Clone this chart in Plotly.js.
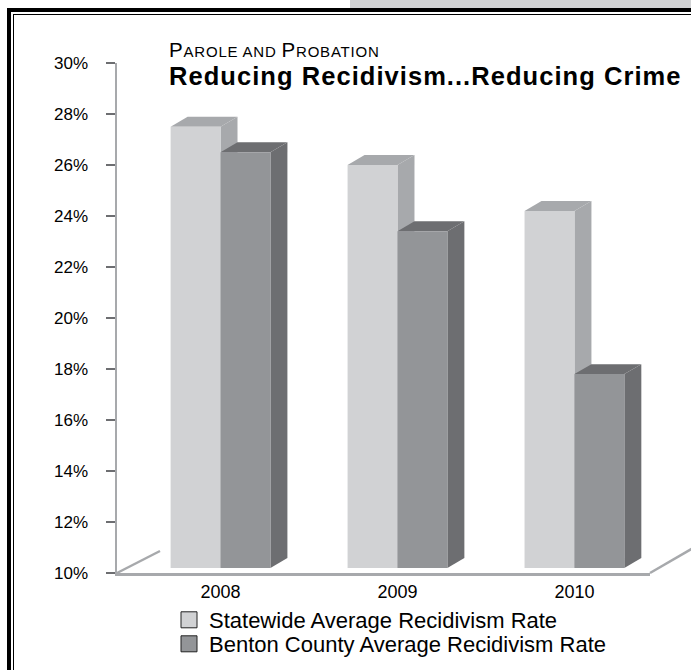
<!DOCTYPE html>
<html>
<head>
<meta charset="utf-8">
<script src="https://cdn.plot.ly/plotly-3.0.1.min.js"></script>
<style>
  html, body { margin: 0; padding: 0; background: #fff; }
  #wrap { position: relative; width: 691px; height: 670px; overflow: hidden; }
  #chart { position: absolute; left: 0; top: 0; width: 691px; height: 670px; }
  .deco { position: absolute; pointer-events: none; }
  #band { left: 350px; top: 0; width: 341px; height: 8px; background: #d1d2d4; }
  #outer { left: 7px; top: 8px; width: 700px; height: 700px; border-left: 4.5px solid #000; border-top: 4.5px solid #000; }
  #inner { left: 13.3px; top: 14px; width: 700px; height: 700px; border-left: 1.5px solid #000; border-top: 1.5px solid #000; }
  #chart g.annotation[data-index="0"] text { letter-spacing: 0.8px; }
  #chart g.annotation[data-index="1"] text { letter-spacing: 1.05px; }
</style>
</head>
<body>
<div id="wrap">
  <div id="chart"></div>
  <div class="deco" id="band"></div>
  <div class="deco" id="outer"></div>
  <div class="deco" id="inner"></div>
</div>
<script>
// ---- data ----
var years = ['2008', '2009', '2010'];
var statewide = [27.3, 25.8, 24.0];
var benton = [26.3, 23.2, 17.6];
var seriesNames = ['Statewide Average Recidivism Rate', 'Benton County Average Recidivism Rate'];
var yTickVals = [10, 12, 14, 16, 18, 20, 22, 24, 26, 28, 30];
var yTickText = ['10%', '12%', '14%', '16%', '18%', '20%', '22%', '24%', '26%', '28%', '30%'];

// ---- style ----
var FONT = '"Liberation Sans", Arial, Helvetica, sans-serif';
var colFront = ['#d1d2d4', '#939598'];
var colSide = ['#a7a9ac', '#6d6e71'];
var barW = 0.282;       // bar width in category units
var depthX = 0.096;     // 3D depth, x units
var depthY = 0.39;      // 3D depth, y units
var floorBase = 10;     // axis minimum
var floorLift = 0.2;    // bars sit slightly back on the floor

var idx = years.map(function (_, i) { return i; });
var series = [statewide, benton];
var offsets = [-barW, 0];
var legendIds = ['legend', 'legend2'];

var traces = [];
series.forEach(function (vals, s) {
  traces.push({
    type: 'bar',
    x: idx,
    y: vals.map(function (v) { return v - floorBase; }),
    base: floorBase + floorLift,
    width: barW,
    offset: offsets[s],
    marker: { color: colFront[s], line: { width: 0 } },
    name: seriesNames[s],
    showlegend: false,
    hoverinfo: 'skip'
  });
});
// legend entries
series.forEach(function (vals, s) {
  traces.push({
    type: 'scatter',
    mode: 'markers',
    x: [null],
    y: [null],
    name: seriesNames[s],
    legend: legendIds[s],
    marker: { symbol: 'square', size: 16, color: colFront[s], line: { color: '#222', width: 1 } },
    showlegend: true,
    hoverinfo: 'skip'
  });
});

// 3D side and top faces computed from the data
var shapes = [];
idx.forEach(function (i) {
  series.forEach(function (vals, s) {
    var xl = i + offsets[s];
    var xr = xl + barW;
    var b = floorBase + floorLift;
    var t = vals[i] + floorLift;
    var side = 'M' + xr + ',' + b + ' L' + (xr + depthX) + ',' + (b + depthY) +
               ' L' + (xr + depthX) + ',' + (t + depthY) + ' L' + xr + ',' + t + ' Z';
    var top = 'M' + xl + ',' + t + ' L' + (xl + depthX) + ',' + (t + depthY) +
              ' L' + (xr + depthX) + ',' + (t + depthY) + ' L' + xr + ',' + t + ' Z';
    shapes.push({ type: 'path', xref: 'x', yref: 'y', path: side, fillcolor: colSide[s], line: { width: 0 }, layer: 'below' });
    shapes.push({ type: 'path', xref: 'x', yref: 'y', path: top, fillcolor: colSide[s], line: { width: 0 }, layer: 'below' });
  });
});

// floor perspective lines (decoration, paper coords)
var L = 117, R = 650, T = 63, B = 573;
function px(x) { return (x - L) / (R - L); }
function py(y) { return (B - y) / (B - T); }
shapes.push({ type: 'line', xref: 'paper', yref: 'paper', x0: px(117), y0: py(573), x1: px(160), y1: py(551), line: { color: '#a7a9ac', width: 2.5 } });
shapes.push({ type: 'line', xref: 'paper', yref: 'paper', x0: px(650), y0: py(573), x1: px(700), y1: py(544), line: { color: '#a7a9ac', width: 2.5 } });

function legendBox(cy) {
  return {
    x: px(169),
    y: py(cy),
    xanchor: 'left',
    yanchor: 'middle',
    orientation: 'v',
    bgcolor: 'rgba(0,0,0,0)',
    borderwidth: 0,
    font: { size: 22, family: FONT, color: '#000' },
    itemwidth: 30
  };
}

var layout = {
  width: 691,
  height: 670,
  margin: { l: L, r: 691 - R, t: T, b: 670 - B, pad: 0, autoexpand: false },
  paper_bgcolor: '#ffffff',
  plot_bgcolor: '#ffffff',
  barmode: 'overlay',
  showlegend: true,
  font: { family: FONT, color: '#000' },
  xaxis: {
    range: [-0.585, 2.427],
    tickvals: idx,
    ticktext: years,
    showgrid: false,
    zeroline: false,
    showline: true,
    linecolor: '#a7a9ac',
    linewidth: 3,
    ticks: '',
    tickfont: { size: 18, family: FONT, color: '#000' },
    fixedrange: true
  },
  yaxis: {
    range: [10, 30],
    tickvals: yTickVals,
    ticktext: yTickText,
    showgrid: false,
    zeroline: false,
    showline: true,
    linecolor: '#a7a9ac',
    linewidth: 2.5,
    ticks: 'outside',
    ticklen: 9,
    tickwidth: 2.5,
    tickcolor: '#6d6e71',
    ticklabelstandoff: 14,
    tickfont: { size: 17, family: FONT, color: '#000' },
    fixedrange: true
  },
  legend: legendBox(620),
  legend2: legendBox(644),
  shapes: shapes,
  annotations: [
    {
      xref: 'paper', yref: 'paper', x: px(167), y: py(49), xanchor: 'left', yanchor: 'middle',
      showarrow: false, align: 'left',
      text: 'P<span style="font-size:15px">AROLE AND </span>P<span style="font-size:15px">ROBATION</span>',
      font: { size: 20.5, family: FONT, color: '#000' }
    },
    {
      xref: 'paper', yref: 'paper', x: px(167), y: py(76), xanchor: 'left', yanchor: 'middle',
      showarrow: false, align: 'left',
      text: 'Reducing Recidivism...Reducing Crime',
      font: { size: 25.5, family: FONT, color: '#000', weight: 'bold' }
    }
  ]
};

Plotly.newPlot('chart', traces, layout, { displayModeBar: false, staticPlot: true });
</script>
</body>
</html>
